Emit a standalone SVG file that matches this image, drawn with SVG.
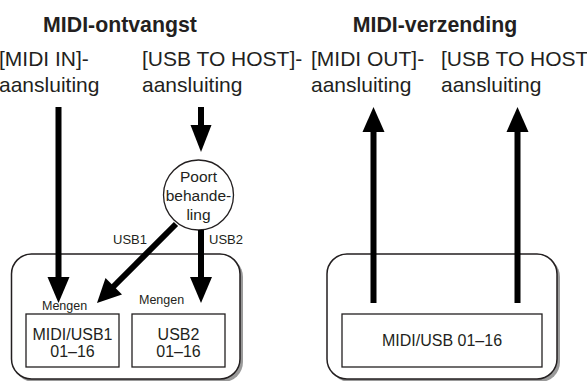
<svg xmlns="http://www.w3.org/2000/svg" width="587" height="381" viewBox="0 0 587 381">
<style>
text{font-family:"Liberation Sans",Arial,sans-serif;fill:#231f20}
.t{font-size:21.3px;font-weight:bold}
.l{font-size:21px}
.c{font-size:15.5px}
.s{font-size:13px}
.m{font-size:12.5px}
.b{font-size:16px}
.frame{fill:#fff;stroke:#231f20;stroke-width:1.5}
.shadow{fill:#9a9a9a}
.box{fill:#fff;stroke:#231f20;stroke-width:1.3}
.ln{stroke:#000;stroke-width:6;fill:none}
.hd{fill:#000}
</style>
<g id="titles">
<text class="t" x="120" y="31.5" text-anchor="middle">MIDI-ontvangst</text>
<text class="t" x="435" y="31.5" text-anchor="middle">MIDI-verzending</text>
</g>
<g id="ports">
<text class="l" x="-1" y="66">[MIDI IN]-</text>
<text class="l" x="-1" y="92">aansluiting</text>
<text class="l" x="142" y="66">[USB TO HOST]-</text>
<text class="l" x="142" y="92">aansluiting</text>
<text class="l" x="311" y="66">[MIDI OUT]-</text>
<text class="l" x="311" y="92">aansluiting</text>
<text class="l" x="441" y="66">[USB TO HOST]-</text>
<text class="l" x="441" y="92">aansluiting</text>
</g>
<g id="frame-receive">
<rect class="shadow" x="14" y="257" width="229" height="125" rx="20"/>
<rect class="frame" x="11.5" y="254" width="228.5" height="125" rx="20"/>
</g>
<g id="frame-send">
<rect class="shadow" x="330" y="257" width="230" height="125" rx="20"/>
<rect class="frame" x="327" y="254" width="230" height="125" rx="20"/>
</g>
<g id="midi-usb1">
<rect class="box" x="26" y="314" width="93" height="53"/>
<text class="b" x="72.5" y="340" text-anchor="middle">MIDI/USB1</text>
<text class="b" x="72.5" y="357" text-anchor="middle">01–16</text>
</g>
<g id="usb2">
<rect class="box" x="132" y="314" width="93" height="53"/>
<text class="b" x="178.5" y="340" text-anchor="middle">USB2</text>
<text class="b" x="178.5" y="357" text-anchor="middle">01–16</text>
</g>
<g id="midi-usb">
<rect class="box" x="342" y="314" width="200" height="53"/>
<text class="b" x="442" y="346" text-anchor="middle">MIDI/USB 01–16</text>
</g>
<g id="port-handling">
<circle cx="198.5" cy="195" r="35" fill="#fff" stroke="#231f20" stroke-width="1.3"/>
<text class="c" x="198.5" y="182" text-anchor="middle">Poort</text>
<text class="c" x="198.5" y="201" text-anchor="middle">behande-</text>
<text class="c" x="198.5" y="220" text-anchor="middle">ling</text>
</g>
<g id="connectors">
<line class="ln" x1="58.5" y1="107" x2="58.5" y2="280"/>
<polygon class="hd" points="47.5,277 69.5,277 58.5,303"/>
<line class="ln" x1="201" y1="107" x2="201" y2="128"/>
<polygon class="hd" points="190.5,125 211.5,125 201,152"/>
<line class="ln" x1="201" y1="230" x2="201" y2="280"/>
<polygon class="hd" points="190,277 212,277 201,303"/>
<line class="ln" x1="176" y1="224" x2="112" y2="288"/>
<polygon class="hd" points="97,303 105.5,278 122,294.5"/>
<line class="ln" x1="373.5" y1="303" x2="373.5" y2="128"/>
<polygon class="hd" points="362.5,132 384.5,132 373.5,107"/>
<line class="ln" x1="517.5" y1="303" x2="517.5" y2="128"/>
<polygon class="hd" points="506.5,132 528.5,132 517.5,107"/>
</g>
<g id="labels">
<text class="s" x="113" y="244">USB1</text>
<text class="s" x="209" y="244">USB2</text>
<text class="m" x="42" y="310">Mengen</text>
<text class="m" x="139" y="304">Mengen</text>
</g>
</svg>
